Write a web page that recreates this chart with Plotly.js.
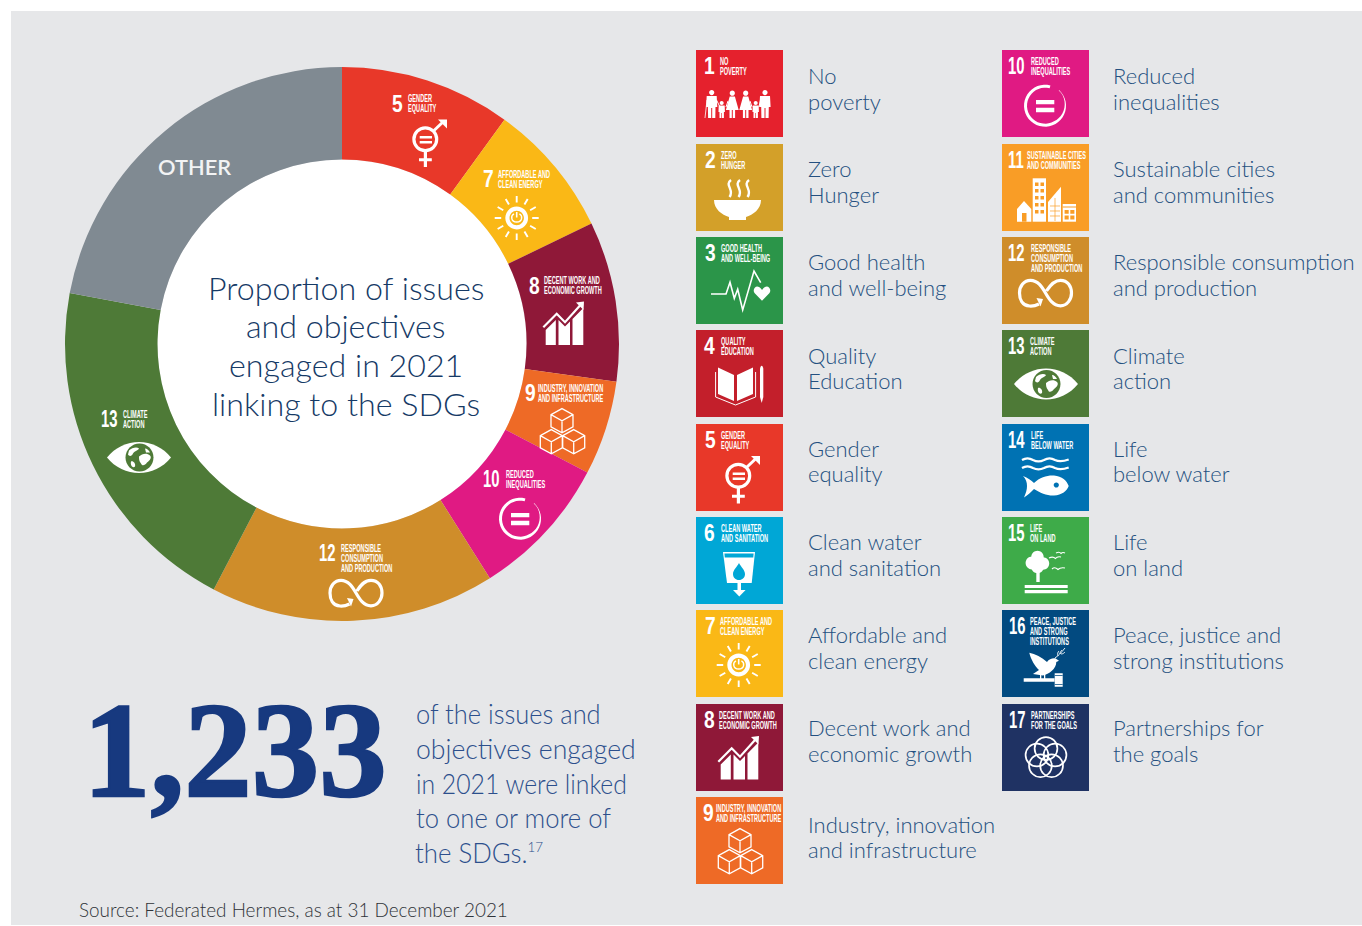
<!DOCTYPE html>
<html>
<head>
<meta charset="utf-8">
<script src="https://cdn.plot.ly/plotly-3.0.1.min.js"></script>
<style>html,body{margin:0;padding:0;background:#fff;overflow:hidden}#chart{width:1362px;height:926px}</style>
</head>
<body>
<div id="chart"></div>
<script>
// Engagement share per goal; counts add up to the 1,233 headline figure.
const sliceNames  = ['SDG 5','SDG 7','SDG 8','SDG 9','SDG 10','SDG 12','SDG 13','Other'];
const sliceCounts = [123, 97, 115, 68, 103, 205, 250, 272];
const sliceGoals  = [5, 7, 8, 9, 10, 12, 13];
const otherColor  = '#808a92';

// The seventeen goals, in tile order.
const goalNumbers = [1,2,3,4,5,6,7,8,9,10,11,12,13,14,15,16,17];
const goalColors  = ['#e5212d','#d3a029','#2b9549','#c31f2b','#e83829','#00a7d6','#fab816','#8f1838','#ee6a26',
                     '#e01a83','#f99d26','#cf8d2a','#4e7a37','#0072b3','#3eab49','#024a80','#1f3263'];
const goalBadges  = [['NO','POVERTY'],['ZERO','HUNGER'],['GOOD HEALTH','AND WELL-BEING'],['QUALITY','EDUCATION'],
                     ['GENDER','EQUALITY'],['CLEAN WATER','AND SANITATION'],['AFFORDABLE AND','CLEAN ENERGY'],
                     ['DECENT WORK AND','ECONOMIC GROWTH'],['INDUSTRY, INNOVATION','AND INFRASTRUCTURE'],
                     ['REDUCED','INEQUALITIES'],['SUSTAINABLE CITIES','AND COMMUNITIES'],
                     ['RESPONSIBLE','CONSUMPTION','AND PRODUCTION'],['CLIMATE','ACTION'],['LIFE','BELOW WATER'],
                     ['LIFE','ON LAND'],['PEACE, JUSTICE','AND STRONG','INSTITUTIONS'],['PARTNERSHIPS','FOR THE GOALS']];
const goalCaptions = [['No','poverty'],['Zero','Hunger'],['Good health','and well-being'],['Quality','Education'],
                      ['Gender','equality'],['Clean water','and sanitation'],['Affordable and','clean energy'],
                      ['Decent work and','economic growth'],['Industry, innovation','and infrastructure'],
                      ['Reduced','inequalities'],['Sustainable cities','and communities'],
                      ['Responsible consumption','and production'],['Climate','action'],['Life','below water'],
                      ['Life','on land'],['Peace, justice and','strong institutions'],['Partnerships for','the goals']];
const centreLines = ['Proportion of issues','and objectives','engaged in 2021','linking to the SDGs'];
const headline    = '1,233';
const noteLines   = ['of the issues and','objectives engaged','in 2021 were linked','to one or more of',
                     'the SDGs.<sup><span style="font-size:14px">17</span></sup>'];
const sourceLine  = 'Source: Federated Hermes, as at 31 December 2021';

// Page geometry, in pixels.
const W = 1362, H = 926;
const CX = 342, CY = 344, R = 277, r0 = 184.5;
const tileSize = 87;
const tileRows = [50,144,237,330,424,517,610,704,797];
const captionRowA = [75.5,168.5,261.5,355.3,448.1,541.5,634.5,727.5,824.5];
const captionRowB = [101.5,194.5,287.5,380.7,473.9,567.5,660.5,753.5,849.5];
const noteRows = [713,748,783,817,852];
const noteSqueeze = [0.943,0.986,0.917,0.95,0.955];
const badgeNumX  = [7.2,7.8,7.8,7.1,7.5,7.1,7.5,6.8,6.1,5.2,5.2,5.2,4.5,5.2,4.5,5.5,6.2];
const badgeTextX = [23.2,24.2,24.2,24.2,24.2,24.2,23.2,21.9,19.2,27.5,23.5,27.5,26.5,27.5,26.9,26.9,27.5];
const sliceOrigins = {5:[383,87.5],7:[474,163],8:[521,269.5],9:[518,377],10:[477,463],12:[312.5,537],13:[95,403.5]};

const INK = '#163a66', NOTE = '#2c4f8c', NAVY = '#17397f', CAPTION = '#245080';
const BODY_FONT = 'Lato, "Open Sans", sans-serif';
const NARROW_FONT = '"Liberation Sans Narrow", "Liberation Sans", sans-serif';

const fx = x => (x / W).toFixed(5);
const fy = y => (1 - y / H).toFixed(5);

// Maps a path in tile units to paper fractions at the given origin and scale.
function place(d, ox, oy, s) {
  return d.replace(/([MLCQ])([^MLCQZ]*)/g, (m, cmd, rest) => {
    const n = rest.trim().split(/[\s,]+/).map(Number);
    const out = [];
    for (let i = 0; i < n.length; i += 2) out.push(fx(ox + n[i] * s) + ',' + fy(oy + n[i + 1] * s));
    return cmd + out.join(' ');
  });
}
const circle = (x, y, r) => {
  const k = r * 0.5523;
  return `M${x - r},${y} C${x - r},${y - k} ${x - k},${y - r} ${x},${y - r} C${x + k},${y - r} ${x + r},${y - k} ${x + r},${y} ` +
         `C${x + r},${y + k} ${x + k},${y + r} ${x},${y + r} C${x - k},${y + r} ${x - r},${y + k} ${x - r},${y} Z `;
};
const poly = (pts, closed = true) => 'M' + pts.map(p => p.join(',')).join(' L') + (closed ? ' Z ' : ' ');
const rect = (x0, y0, x1, y1) => poly([[x0, y0], [x1, y0], [x1, y1], [x0, y1]]);
const solid = d => ({d, fill: '#fff'});
const hole  = d => ({d, fill: 'tile'});
const pen   = (d, w) => ({d, w});

function man(c) {
  return circle(c, 42.6, 2.6) + poly([[c-5,46],[c+5,46],[c+5.6,57],[c+3.8,57],[c+3.6,68],[c+.5,68],[c+.5,58],[c-.5,58],[c-.5,68],[c-3.6,68],[c-3.8,57],[c-5.6,57]]);
}
function woman(c) {
  return circle(c, 43.2, 2.6) + poly([[c-2.6,46.4],[c+2.6,46.4],[c+6.4,60],[c+2.8,60],[c+2.8,68],[c+.5,68],[c+.5,60],[c-.5,60],[c-.5,68],[c-2.8,68],[c-2.8,60],[c-6.4,60]]);
}
function child(c) {
  return circle(c, 53, 2) + poly([[c-3,55.6],[c+3,55.6],[c+3.2,62],[c+2.2,62],[c+2.2,68],[c+.3,68],[c+.3,63],[c-.3,63],[c-.3,68],[c-2.2,68],[c-2.2,62],[c-3.2,62]]);
}
function cube(c, y, w) {
  const h = w * 0.58;
  return poly([[c,y-h*1.9],[c+w,y-h*.95],[c+w,y+h*.95],[c,y+h*1.9],[c-w,y+h*.95],[c-w,y-h*.95]]) +
         poly([[c-w,y-h*.95],[c,y],[c+w,y-h*.95]], false) + poly([[c,y],[c,y+h*1.9]], false);
}
function taperRing(c, y, r) {
  const outer = [], inner = [];
  for (let a = 15; a >= -318; a -= 9) {
    const t = a * Math.PI / 180;
    const weight = a > -210 ? 3 : Math.max(0.45, 3 * (a + 318) / 108);
    outer.push([c + r * Math.sin(t), y - r * Math.cos(t)]);
    inner.unshift([c + (r - weight) * Math.sin(t), y - (r - weight) * Math.cos(t)]);
  }
  return poly(outer.concat(inner));
}

// Goal pictograms, drawn in an 87-unit tile with its origin at the top left.
const icons = {
  1: () => [
    solid(man(15.7) + child(25.7) + woman(36.3) + woman(49.7) + child(59.7) + man(69)),
    pen('M20.5,50 L24,57 M30,57 L32,51 M54,51 L56,57 M63,57 L64.5,50', 1),
    pen('M11,50 L9,68', 0.8)
  ],
  2: () => [
    solid('M18,56 L65,56 C65,65 57,71 50,73 L50,76 L33,76 L33,73 C26,71 18,65 18,56 Z'),
    pen('M35,36 C28,41 39,46 33.5,53 M44,36 C37,41 48,46 42.5,53 M53,36 C46,41 57,46 51.5,53', 2.4)
  ],
  3: () => [
    pen('M15,57 L30,57 L34,45.3 L38.3,61.3 L41.7,52.3 L46.7,73 L58,34 L64.7,45.7', 1.6),
    solid('M66,63.7 L58.5,56 C56,52 60,48 63,50 C64.6,51 65.4,52 66,53 C66.6,52 67.4,51 69,50 C72,48 76,52 73.5,56 Z')
  ],
  4: () => [
    solid(poly([[22,37.5],[38,45],[38,71],[22,64]]) + poly([[41,45],[57,37.5],[57,64],[41,71]])),
    pen('M19.6,42 L19.6,67 L39.5,75 L59.6,67 L59.6,42', 1),
    solid('M64,39 C64,37.5 65,35.7 65.7,35.7 C66.4,35.7 67.3,37.5 67.3,39 L67.3,67 L65.7,73 L64,67 Z')
  ],
  5: () => [
    pen(circle(42.3, 51.7, 11.4), 3.2),
    solid(rect(36.7,48.4,49,51) + rect(36.7,53.4,49,56)),
    pen('M51,43 L61,33.5', 3),
    solid(poly([[55,32],[64,32],[64,41]])),
    solid(rect(40.8,64,44,79.5) + rect(36,70.8,40.8,73.8) + rect(44,70.8,48.8,73.8))
  ],
  6: () => [
    solid(poly([[27,35],[59,35],[55.7,66],[31,66]])),
    hole(poly([[28.4,36.6],[57.6,36.6],[57.3,40.4],[28.8,40.4]])),
    hole('M43,46 C45,50 49,53 49,57 C49,60.5 46.5,63 43,63 C39.5,63 37,60.5 37,57 C37,53 41,50 43,46 Z'),
    solid(rect(41.5,66,45,73) + poly([[37,73],[49.6,73],[43.3,79.5]]))
  ],
  7: () => {
    let rays = '';
    for (let a = 0; a < 360; a += 30) {
      const t = a * Math.PI / 180;
      rays += `M${42.7 + 15.5 * Math.sin(t)},${55 - 15.5 * Math.cos(t)} L${42.7 + 22 * Math.sin(t)},${55 - 22 * Math.cos(t)} `;
    }
    return [
      pen(rays, 1.9),
      solid(circle(42.7, 55, 11.4) + circle(42.7, 55, 7.2)),
      pen('M40,50.9 C36.5,52.7 36.8,58.8 42.7,59 C48.6,58.8 48.9,52.7 45.4,50.9', 1.4),
      pen('M42.7,49 L42.7,54.5', 1.6)
    ];
  },
  8: () => [
    solid(poly([[24.7,60.5],[34.8,50.5],[34.8,75.5],[24.7,75.5]]) +
          poly([[37.5,50.5],[44,57],[49,52],[49,75.5],[37.5,75.5]]) +
          poly([[51.5,49.5],[62.3,38.5],[62.3,75.5],[51.5,75.5]])),
    pen('M22.3,57.7 L35.7,44.3 L44,52.7 L59,36', 2.2),
    solid(poly([[55,33],[63,32],[62.5,40.5]]))
  ],
  9: () => [
    pen(cube(44, 43.7, 11) + cube(33.3, 64.7, 11) + cube(55.7, 64.7, 11), 1.3)
  ],
  10: () => [
    solid(taperRing(43, 55.7, 21)),
    solid(rect(34,50,52.3,54.3) + rect(34,57.7,52.3,62.3))
  ],
  11: () => [
    solid(poly([[15,65],[22,57],[29.3,65],[29.3,77.7],[15,77.7]])),
    hole(rect(20,69,24.5,77.7)),
    solid(rect(30.7,34.3,44,77.7)),
    hole(rect(33,38.5,36.5,42) + rect(38.5,38.5,42,42) + rect(33,45,36.5,48.5) + rect(38.5,45,42,48.5) +
         rect(33,52,36.5,55.5) + rect(38.5,52,42,55.5) + rect(33,59,36.5,62.5) + rect(38.5,59,42,62.5) +
         rect(33,66,36.5,69.5) + rect(38.5,66,42,69.5)),
    solid(poly([[46,58],[59,42.7],[59,77.7],[46,77.7]])),
    {d: 'M53,54 L53,77 M48,62 L58,62 M48,67 L58,67 M48,72 L58,72', w: 0.7, ink: 'tile'},
    solid(rect(60.7,60,74,77.7)),
    hole(rect(60.7,62.5,74,63.6) + rect(62.6,66,66.7,69.8) + rect(68.3,66,72.4,69.8) + rect(62.6,71.6,66.7,75.4) + rect(68.3,71.6,72.4,75.4))
  ],
  12: () => [
    pen('M37,67 C33,69 30,69.2 27.5,69 C20,68.5 17.5,62 17.5,56 C17.5,49 22,43.3 28.5,43.3 C36,43.3 40,50 43.5,56 C47,62 51,68.8 58.5,68.8 C65.5,68.8 69.5,62 69.5,56 C69.5,49 65.5,43.3 58.5,43.3 C51,43.3 47,50 44.5,54', 3.2),
    solid(poly([[34.5,61],[41,62],[38.5,69.5]]))
  ],
  13: () => [
    solid('M12,54 C20,44 32,38.5 44,38.5 C56,38.5 68,44 76,54 C68,64 56,69.5 44,69.5 C32,69.5 20,64 12,54 Z'),
    hole(circle(44.5, 54, 14)),
    solid('M34,47 C37,44 42,43 44,45 C43,47 40,47 38,50 C37,53 34,53 33,51 Z M44,53 C47,50 52,49 55,52 C57,54 55,57 52,59 C50,62 47,63 46,60 C44,58 44,55 44,53 Z M36,58 C38,57 41,60 40,63 C38,65 35,62 36,58 Z M50,45 C52,45 54,47 55,49 L51,49 Z')
  ],
  14: () => [
    pen('M20,36 C24,33.5 27,33.5 31,36 C35,38 38,38 42,36 C46,33.5 49,33.5 53,36 C57,38 60,38 66.7,35.5 ' +
        'M20,44 C24,41.5 27,41.5 31,44 C35,46 38,46 42,44 C46,41.5 49,41.5 53,44 C57,46 60,46 66.7,43.5', 2.2),
    solid('M21,52 C26,54 29,56 32,59 C38,53 46,51 52,51.5 C60,52 65,57 66.7,62 C65,67 60,71 52,71.5 C46,72 38,69 32,65 C29,68 26,71 22,73.5 C24,69 25,66 25,62 C25,58 24,55 21,52 Z'),
    hole(circle(54.3, 61, 2.6))
  ],
  15: () => [
    solid(circle(35.5,40,6.2) + rect(34.3,50,37.7,65)),
    solid(circle(30,46,6.4)),
    solid(circle(41,46.5,6.2)),
    solid(circle(35.5,50,6.2)),
    solid(rect(22.7,68,65.7,71) + rect(22.7,73,65.7,76.3)),
    pen('M47,41 C50,39.5 52,40 53.5,41.5 C55,39.5 57,39.5 59,40 M54,36 C56,35 58,35 59,36.5 C60,35.5 62,35.5 63,36 M50,52 C52,50 54,50.5 56,52.5 C58,50.5 60,50.5 63,51', 1.1)
  ],
  16: () => [
    solid('M27.3,42.7 C33,44 40,47 45,52 C47,49 50,48 53.3,48.3 L57,50.7 L54.3,52 C54.3,59 47,64 41,65.5 L31,64 L37,60 C33,56 29,50 27.3,42.7 Z'),
    solid(rect(38,64,39.3,69) + rect(42,64,43.3,69)),
    solid(rect(21.7,68.3,53,71.7) + rect(52.7,63.3,60.7,76.7)),
    hole(rect(52.7,65,60.7,65.7) + rect(52.7,74.3,60.7,75)),
    pen('M53,48 C56,46 59,43 63,38 M56,46 C55,44 56,42 57,41 M58,44 C58,42 59,41 60,40 M59,44 C61,44 62,43 63,42', 0.9)
  ],
  17: () => {
    const parts = [];
    for (let a = 0; a < 360; a += 72) {
      const t = a * Math.PI / 180;
      parts.push(pen(circle(44 + 9.5 * Math.sin(t), 54 - 9.5 * Math.cos(t), 11.4), 1.7));
    }
    return parts;
  }
};

const shapes = [];
const annotations = [];
const narrow = [];
let headlineIndex = -1;

function note(text, x, y, size, color, opts = {}) {
  const {squeeze, ...rest} = opts;
  annotations.push(Object.assign({
    text, x: x / W, y: 1 - y / H, xref: 'paper', yref: 'paper', showarrow: false,
    xanchor: 'left', yanchor: 'middle', align: 'left', borderpad: 0,
    font: {family: BODY_FONT, size, color, weight: 300}
  }, rest));
  narrow.push(squeeze || 1);
}

function drawBadge(goal, ox, oy, s) {
  const i = goal - 1, tile = goalColors[i];
  icons[goal]().forEach(p => {
    const filled = p.fill !== undefined;
    shapes.push({
      type: 'path', xref: 'paper', yref: 'paper', layer: 'above',
      path: place(p.d, ox, oy, s),
      fillcolor: filled ? (p.fill === 'tile' ? tile : p.fill) : 'rgba(0,0,0,0)',
      line: {width: filled ? 0 : p.w * s, color: p.ink === 'tile' ? tile : '#fff'}
    });
  });
  const digits = String(goal);
  annotations.push({
    text: digits, x: (ox + badgeNumX[i] * s) / W, y: 1 - (oy + 15.5 * s) / H, xref: 'paper', yref: 'paper',
    showarrow: false, xanchor: 'left', yanchor: 'middle', borderpad: 0,
    font: {family: NARROW_FONT, size: 24 * s, color: '#fff', weight: 700}
  });
  narrow.push(digits.length > 1 ? 0.62 : 0.8);
  goalBadges[i].forEach((line, k) => {
    annotations.push({
      text: line, x: (ox + badgeTextX[i] * s) / W, y: 1 - (oy + (11.3 + 10 * k) * s) / H, xref: 'paper', yref: 'paper',
      showarrow: false, xanchor: 'left', yanchor: 'middle', borderpad: 0,
      font: {family: NARROW_FONT, size: 10 * s, color: '#fff', weight: 700}
    });
    narrow.push(0.56);
  });
}

// Grey panel and the white disc that sits inside the ring.
shapes.push({type: 'rect', xref: 'paper', yref: 'paper', layer: 'below', x0: 11 / W, x1: 1, y0: 1 - 925 / H, y1: 1 - 11 / H,
             fillcolor: '#e6e7e9', line: {width: 0}});
shapes.push({type: 'circle', xref: 'paper', yref: 'paper', layer: 'below', x0: (CX - r0) / W, x1: (CX + r0) / W,
             y0: 1 - (CY + r0) / H, y1: 1 - (CY - r0) / H, fillcolor: '#fff', line: {width: 0}});

// Tiles and their captions.
goalNumbers.forEach((goal, i) => {
  const col = i < 9 ? 0 : 1, row = col ? i - 9 : i;
  const x0 = col ? 1002 : 696, y0 = tileRows[row];
  shapes.push({type: 'rect', xref: 'paper', yref: 'paper', layer: 'above', x0: x0 / W, x1: (x0 + tileSize) / W,
               y0: 1 - (y0 + tileSize) / H, y1: 1 - y0 / H, fillcolor: goalColors[i], line: {width: 0}});
  drawBadge(goal, x0, y0, 1);
  const cx = col ? 1111.6 : 806.6;
  note(goalCaptions[i][0], cx, captionRowA[row], 22, CAPTION);
  note(goalCaptions[i][1], cx, captionRowB[row], 22, CAPTION);
});

// Badges printed on the ring.
sliceGoals.forEach(g => drawBadge(g, sliceOrigins[g][0], sliceOrigins[g][1], 1));
note('OTHER', 157, 166.5, 21.8, '#f2f3f4', {font: {family: BODY_FONT, size: 21.8, color: '#f2f3f4', weight: 600}});

// Ring title.
[287, 326, 364.5, 403].forEach((y, i) => note(centreLines[i], 346.5, y, 32.2, INK, {xanchor: 'center', align: 'center'}));

// Headline figure and its note.
headlineIndex = annotations.length;
note(headline, 82, 750, 135, NAVY, {font: {family: '"Liberation Serif", serif', size: 135, color: NAVY, weight: 700}});
noteRows.forEach((y, i) => note(noteLines[i], 414.5, y, 27, NOTE, {squeeze: noteSqueeze[i]}));
note(sourceLine, 78, 909.5, 18.9, '#2f3338');

const data = [{
  type: 'pie', labels: sliceNames, values: sliceCounts,
  marker: {colors: sliceGoals.map(g => goalColors[g - 1]).concat(otherColor), line: {width: 0}},
  hole: r0 / R, sort: false, direction: 'clockwise', rotation: 0, textinfo: 'none', showlegend: false,
  domain: {x: [(CX - R) / W, (CX + R) / W], y: [1 - (CY + R) / H, 1 - (CY - R) / H]}
}];

const layout = {
  width: W, height: H, margin: {l: 0, r: 0, t: 0, b: 0}, paper_bgcolor: '#fff', showlegend: false,
  shapes, annotations
};

Plotly.newPlot('chart', data, layout, {displayModeBar: false, staticPlot: true}).then(() => {
  document.querySelectorAll('.annotation').forEach(g => {
    const idx = +g.getAttribute('data-index');
    const t = g.querySelector('text');
    // The headline figure needs a heavier weight than the installed serif offers.
    if (idx === headlineIndex) {
      t.style.stroke = NAVY;
      t.style.strokeWidth = '2.4px';
      return;
    }
    // The badge lettering is more condensed than any installed face, so squeeze it horizontally.
    const k = narrow[idx];
    if (!k || k === 1) return;
    const b = t.getBBox();
    t.setAttribute('transform', `translate(${b.x} 0) scale(${k} 1) translate(${-b.x} 0)`);
  });
});
</script>
</body>
</html>
